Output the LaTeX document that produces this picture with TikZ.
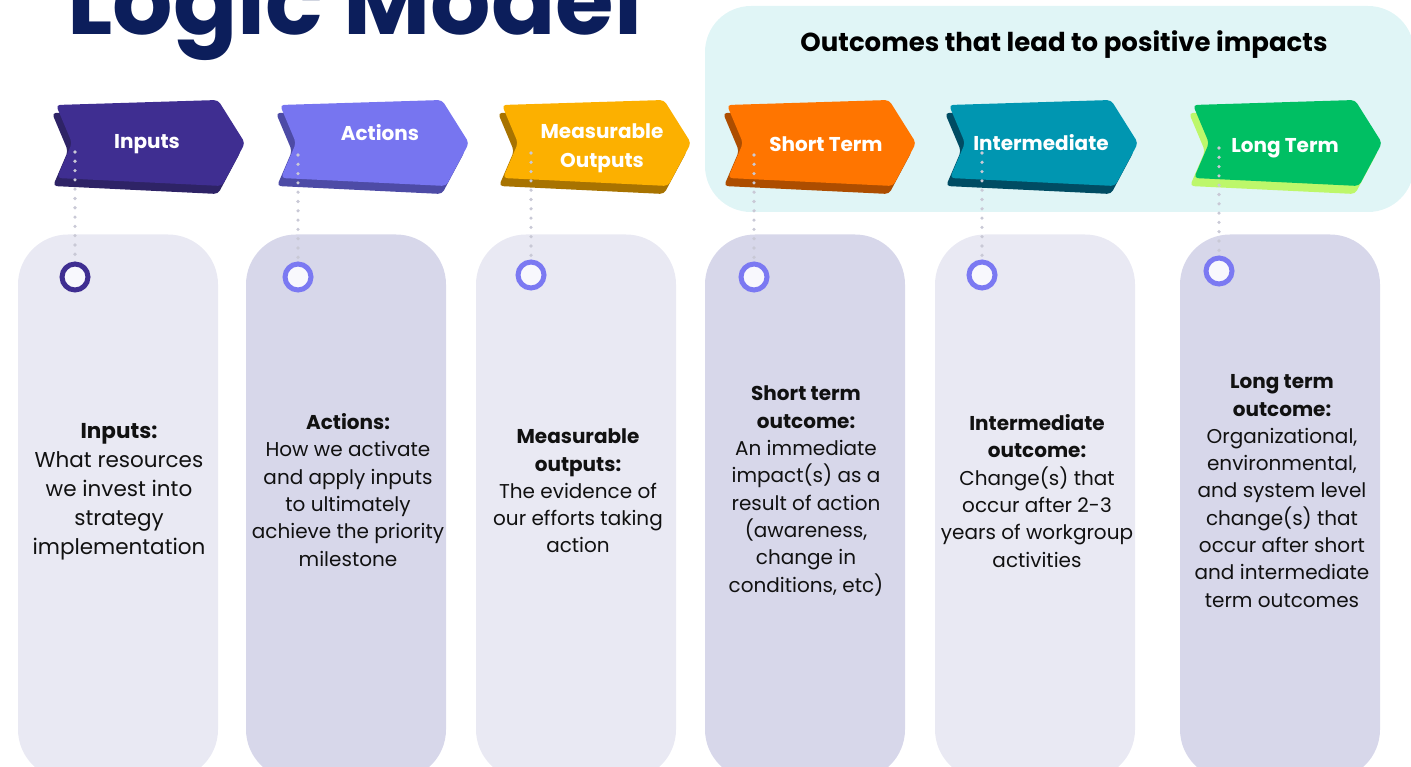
\documentclass[tikz,border=0pt]{standalone}
\usepackage{fontspec}
\setmainfont{Poppins}
\usetikzlibrary{positioning}
\definecolor{titleblue}{HTML}{0C1E5B}
\definecolor{bandteal}{HTML}{E0F5F6}
\definecolor{panelA}{HTML}{E9E9F3}
\definecolor{panelB}{HTML}{D7D7EA}
\definecolor{inpC}{HTML}{3F2E91}
\definecolor{inpS}{HTML}{2E2366}
\definecolor{actC}{HTML}{7775F0}
\definecolor{actS}{HTML}{4D4BA6}
\definecolor{outC}{HTML}{FCB000}
\definecolor{outS}{HTML}{A87300}
\definecolor{shoC}{HTML}{FF7500}
\definecolor{shoS}{HTML}{AD4D00}
\definecolor{intC}{HTML}{0096B1}
\definecolor{intS}{HTML}{004C63}
\definecolor{lonC}{HTML}{00BF63}
\definecolor{lonS}{HTML}{BDF76A}
\definecolor{ringblue}{HTML}{7B79F2}
\definecolor{ringfill}{HTML}{F8F8FD}
\definecolor{dotgrey}{HTML}{C9C9D6}
\definecolor{ink}{HTML}{111111}
\begin{document}
\begin{tikzpicture}[x=1pt,y=-1pt,
    panel/.style={rounded corners=50pt,minimum width=200pt,minimum height=545pt,inner sep=0pt},
    ring/.style={circle,draw=ringblue,line width=5pt,fill=ringfill,minimum size=26pt,inner sep=0pt},
    dots/.style={draw=dotgrey,line width=3.6pt,line cap=round,dash pattern=on 0pt off 9.3pt},
    tag/.style={text=white,font=\bfseries\fontsize{20}{29}\selectfont,align=center},
    blurb/.style={text=ink,font=\fontsize{20}{27.3}\selectfont,align=center}]
\clip (0,0) rectangle (1411,767);
% title and outcome band
\node[text=titleblue,font=\bfseries\fontsize{95}{95}\selectfont,anchor=base] (title) at (355,35) {Logic Model};
\fill[bandteal,rounded corners=46pt] (705,6) rectangle (1414,212);
\node[text=black,font=\bfseries\fontsize{26}{30}\selectfont] (band) at (1064,45) {Outcomes that lead to positive impacts};
% panels
\foreach \n/\x/\c in {1/118/panelA,2/346/panelB,3/576/panelA,4/805/panelB,5/1035/panelA,6/1280/panelB}
    \node[panel,fill=\c] (p\n) at (\x,507) {};
% chevrons
\foreach \l/\m/\s in {56/inpC/inpS,280/actC/actS,502/outC/outS,727/shoC/shoS,949/intC/intS,1193/lonC/lonS}{
    \fill[\s,rounded corners=4pt,shift={(-4,8)}] (\l,105) -- ++(162,-5) -- ++(27,43) -- ++(-23,43) -- ++(-165,-8) -- ++(15,-35) -- cycle;
    \fill[\m,rounded corners=4pt] (\l,105) -- ++(162,-5) -- ++(27,43) -- ++(-23,43) -- ++(-165,-8) -- ++(15,-35) -- cycle;
}
\node[tag] (a1) at (147,144) {Inputs};
\node[tag] (a2) at (380,133) {Actions};
\node[tag] (a3) at (602,148) {Measurable\\Outputs};
\node[tag] (a4) at (826,144) {Short Term};
\node[tag] (a5) at (1041,143) {Intermediate};
\node[tag] (a6) at (1285,148) {Long Term};
% rings and dotted links
\node[ring,draw=inpC] (r1) at (75,277) {};
\node[ring] (r2) at (298,277) {};
\node[ring] (r3) at (531,275) {};
\node[ring] (r4) at (754,277) {};
\node[ring] (r5) at (982,275) {};
\node[ring] (r6) at (1219,271) {};
\coordinate (d1) at (75,152);
\coordinate (d2) at (298,155);
\coordinate (d3) at (531,153);
\coordinate (d4) at (754,155);
\coordinate (d5) at (982,153);
\coordinate (d6) at (1219,148);
\foreach \n in {1,...,6}
    \draw[dots] (d\n) -- (r\n.north);
% panel texts
\node[blurb,font=\fontsize{21.5}{29}\selectfont] (t1) at (119,492) {\textbf{Inputs:}\\What resources\\we invest into\\strategy\\implementation};
\node[blurb] (t2) at (348,490) {\textbf{Actions:}\\How we activate\\and apply inputs\\to ultimately\\achieve the priority\\milestone};
\node[blurb] (t3) at (578,491) {\textbf{Measurable}\\\textbf{outputs:}\\The evidence of\\our efforts taking\\action};
\node[blurb] (t4) at (806,491) {\textbf{Short term}\\\textbf{outcome:}\\An immediate\\impact(s) as a\\result of action\\(awareness,\\change in\\conditions, etc)};
\node[blurb] (t5) at (1037,491) {\textbf{Intermediate}\\\textbf{outcome:}\\Change(s) that\\occur after 2-3\\years of workgroup\\activities};
\node[blurb] (t6) at (1282,491) {\textbf{Long term}\\\textbf{outcome:}\\Organizational,\\environmental,\\and system level\\change(s) that\\occur after short\\and intermediate\\term outcomes};
\end{tikzpicture}
\end{document}
